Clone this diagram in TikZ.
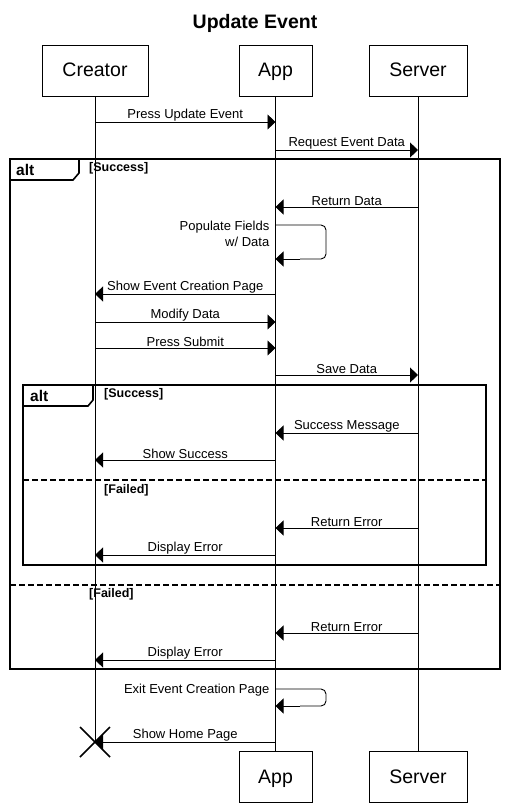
\documentclass[tikz,border=0pt]{standalone}
\usepackage{fontspec}
\setmainfont{Liberation Sans}
\usetikzlibrary{arrows.meta}
\tikzset{
  actor/.style={draw, thick, minimum width=#1, minimum height=51pt, font=\fontsize{19.5}{22}\selectfont, inner sep=0pt, text height=16pt, text depth=4pt},
  actor/.default=106pt,
  msg/.style={-{Triangle[length=8pt, width=15pt]}, line width=0.9pt},
  lbl/.style={font=\fontsize{13}{15}\selectfont, inner sep=0.5pt},
  guard/.style={font=\bfseries\fontsize{12.5}{14}\selectfont, anchor=west, inner sep=0pt},
  frame/.style={line width=1.6pt},
  divider/.style={line width=1.4pt, dash pattern=on 6pt off 3pt}
}
\begin{document}
\begin{tikzpicture}[x=1pt, y=-1pt]
    \useasboundingbox (0,0) rectangle (508,810);
    % Title
    \node[font=\bfseries\fontsize{19.5}{22}\selectfont] (title) at (255,23) {Update Event};
    % Participants
    \node[actor=106pt] (creator) at (95,71) {Creator};
    \node[actor=73pt] (app) at (275.5,71) {App};
    \node[actor=98pt] (server) at (418,71) {Server};
    \node[actor=73pt] (appB) at (275.5,777) {App};
    \node[actor=98pt] (serverB) at (418,777) {Server};
    \coordinate (creatorEnd) at (95,742);
    % Lifelines
    \draw[line width=0.9pt] (creator.south) -- (creatorEnd);
    \draw[line width=0.9pt] (app.south) -- (appB.north);
    \draw[line width=0.9pt] (server.south) -- (serverB.north);
    % Messages before the frame
    \draw[msg] (creator |- 0,122) -- (app |- 0,122) node[lbl, midway, above] {Press Update Event};
    \draw[msg] (app |- 0,150) -- (server |- 0,150) node[lbl, midway, above] {Request Event Data};
    % Outer alt frame
    \draw[frame] (10,159) rectangle (500,669);
    \draw[frame] (10,180) -- (73,180) -- (79,173) -- (79,159);
    \node[font=\bfseries\fontsize{15.5}{17}\selectfont, anchor=west, inner sep=0pt] (altA) at (16,170) {alt};
    \node[guard] (okA) at (89,168) {[Success]};
    \draw[msg] (server |- 0,207) -- (app |- 0,207) node[lbl, midway, above] {Return Data};
    \draw[line width=0.9pt, rounded corners=5pt] (app |- 0,225) -- (326,225) -- (326,259) -- (300,259);
    \draw[msg] (300,259) -- (app |- 0,259);
    \node[lbl, align=right, anchor=north east, font=\fontsize{13}{16.5}\selectfont] (populate) at (270,220) {Populate Fields\\w/ Data};
    \draw[msg] (app |- 0,294) -- (creator |- 0,294) node[lbl, midway, above] {Show Event Creation Page};
    \draw[msg] (creator |- 0,322) -- (app |- 0,322) node[lbl, midway, above] {Modify Data};
    \draw[msg] (creator |- 0,348) -- (app |- 0,348) node[lbl, midway, above] {Press Submit};
    \draw[msg] (app |- 0,375) -- (server |- 0,375) node[lbl, midway, above] {Save Data};
    % Inner alt frame
    \draw[frame] (23,385) rectangle (486,565);
    \draw[frame] (23,406) -- (88,406) -- (93,400) -- (93,385);
    \node[font=\bfseries\fontsize{15.5}{17}\selectfont, anchor=west, inner sep=0pt] (altB) at (30,396) {alt};
    \node[guard] (okB) at (104,394) {[Success]};
    \draw[msg] (server |- 0,433) -- (app |- 0,433) node[lbl, midway, above] {Success Message};
    \draw[msg] (app |- 0,460) -- (creator |- 0,460) node[lbl, midway, above] {Show Success};
    \draw[divider] (23,480) -- (486,480);
    \node[guard] (failB) at (104,490) {[Failed]};
    \draw[msg] (server |- 0,528) -- (app |- 0,528) node[lbl, midway, above] {Return Error};
    \draw[msg] (app |- 0,555) -- (creator |- 0,555) node[lbl, midway, above] {Display Error};
    % Outer failed branch
    \draw[divider] (10,585) -- (500,585);
    \node[guard] (failA) at (89,594) {[Failed]};
    \draw[msg] (server |- 0,633) -- (app |- 0,633) node[lbl, midway, above] {Return Error};
    \draw[msg] (app |- 0,660) -- (creator |- 0,660) node[lbl, midway, above] {Display Error};
    % After the frame
    \draw[line width=0.9pt, rounded corners=5pt] (app |- 0,689) -- (326,689) -- (326,706) -- (300,706);
    \draw[msg] (300,706) -- (app |- 0,706);
    \node[lbl, anchor=east] (exitpage) at (270,690) {Exit Event Creation Page};
    \draw[msg] (app |- 0,742) -- (creatorEnd) node[lbl, midway, above] {Show Home Page};
    % Destroy mark
    \draw[line width=1.6pt] (80,727) -- (110,757);
    \draw[line width=1.6pt] (80,757) -- (110,727);
\end{tikzpicture}
\end{document}
